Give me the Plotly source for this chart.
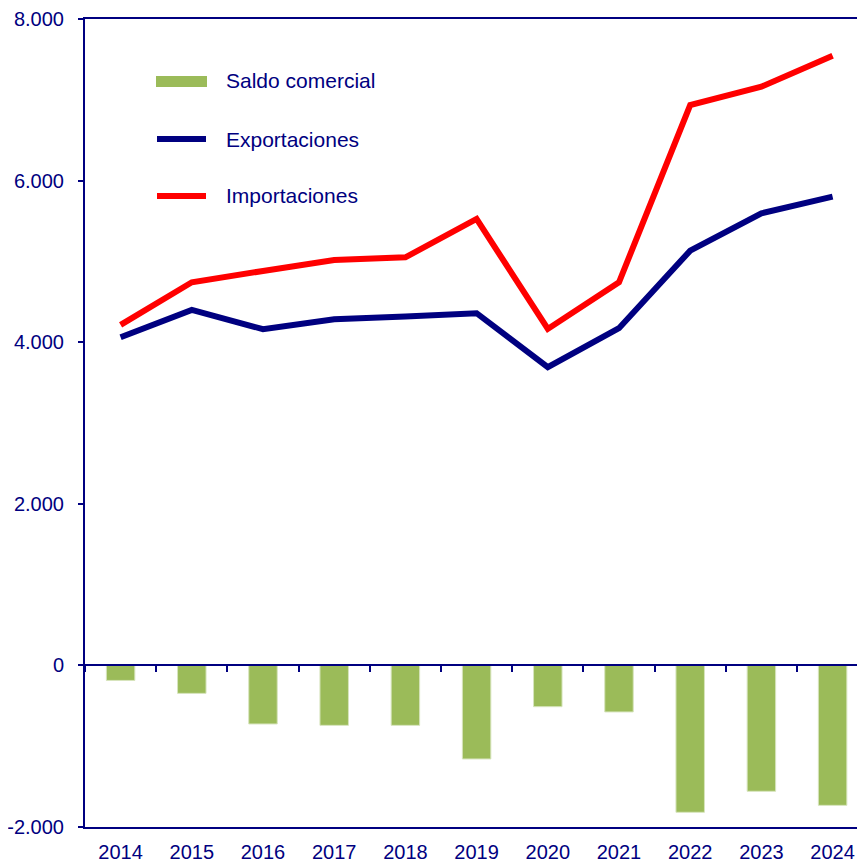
import plotly.graph_objects as go

# Balanza comercial (millones)
years = ['2014', '2015', '2016', '2017', '2018', '2019', '2020', '2021', '2022', '2023', '2024']
exportaciones = [4062, 4400, 4161, 4285, 4317, 4359, 3690, 4173, 5133, 5595, 5801]
importaciones = [4214, 4742, 4882, 5018, 5051, 5525, 4164, 4742, 6935, 7162, 7545]
saldo = [-186, -346, -725, -742, -742, -1158, -511, -576, -1818, -1558, -1732]

y_ticks = [-2000, 0, 2000, 4000, 6000, 8000]
y_tick_labels = ['-2.000', '0', '2.000', '4.000', '6.000', '8.000']

navy = '#000080'
font = 'Liberation Sans, Arial, sans-serif'

# the page body adds an 8px offset, so the figure is a bit smaller than the window
OFF = 8
W, H = 865 - OFF, 863 - OFF
ml, mr, mt, mb = 85 - OFF, 0, 19 - OFF, 36
pw, ph = W - ml - mr, H - mt - mb


def px(x):
    # page pixel -> paper fraction
    return (x - OFF - ml) / pw


def py(y):
    return 1 - (y - OFF - mt) / ph


fig = go.Figure()

fig.add_trace(go.Bar(x=years, y=saldo, name='Saldo comercial', xaxis='x2',
                     marker=dict(color='#9BBB59', line=dict(color='#D7E4BD', width=1)),
                     width=0.4, showlegend=False))
fig.add_trace(go.Scatter(x=years, y=exportaciones, name='Exportaciones', mode='lines',
                         line=dict(color=navy, width=6), showlegend=False))
fig.add_trace(go.Scatter(x=years, y=importaciones, name='Importaciones', mode='lines',
                         line=dict(color='#FF0000', width=6), showlegend=False))

xrange = [-0.5, -0.5 + pw / 71.2]

# legend drawn by hand to match the original
shapes = [
    dict(type='rect', xref='paper', yref='paper', x0=px(156), x1=px(207), y0=py(87), y1=py(76),
         fillcolor='#9BBB59', line=dict(width=0)),
    dict(type='line', xref='paper', yref='paper', x0=px(157), x1=px(206), y0=py(139), y1=py(139),
         line=dict(color=navy, width=6)),
    dict(type='line', xref='paper', yref='paper', x0=px(157), x1=px(206), y0=py(196), y1=py(196),
         line=dict(color='#FF0000', width=6)),
]
annotations = []
for label, yy in [('Saldo comercial', 81), ('Exportaciones', 139), ('Importaciones', 196)]:
    annotations.append(dict(text=label, xref='paper', yref='paper', x=px(224), y=py(yy),
                            xanchor='left', yanchor='middle', showarrow=False,
                            font=dict(family=font, size=21, color=navy)))

fig.update_layout(
    width=W, height=H,
    margin=dict(l=ml, r=mr, t=mt, b=mb),
    plot_bgcolor='white', paper_bgcolor='white',
    font=dict(family=font, size=20, color=navy),
    bargap=0.6,
    shapes=shapes,
    annotations=annotations,
    xaxis=dict(type='category', range=xrange, showgrid=False, showline=True,
               linecolor=navy, linewidth=2, mirror=True, ticks='',
               tickfont=dict(size=20, color=navy), ticklabelstandoff=6),
    xaxis2=dict(type='category', range=xrange, overlaying='x', anchor='free',
                position=(0 - y_ticks[0]) / (y_ticks[-1] - y_ticks[0]),
                showgrid=False, showline=True, linecolor=navy, linewidth=2,
                ticks='outside', ticklen=6, tickwidth=2, tickcolor=navy,
                tickson='boundaries', showticklabels=False),
    yaxis=dict(range=[y_ticks[0], y_ticks[-1]], tickvals=y_ticks, ticktext=y_tick_labels,
               showgrid=False, zeroline=False, showline=True, linecolor=navy, linewidth=2,
               ticks='outside', ticklen=5, tickwidth=2, tickcolor=navy,
               tickfont=dict(size=20, color=navy), ticklabelstandoff=10),
)

fig.write_html('out.html')
